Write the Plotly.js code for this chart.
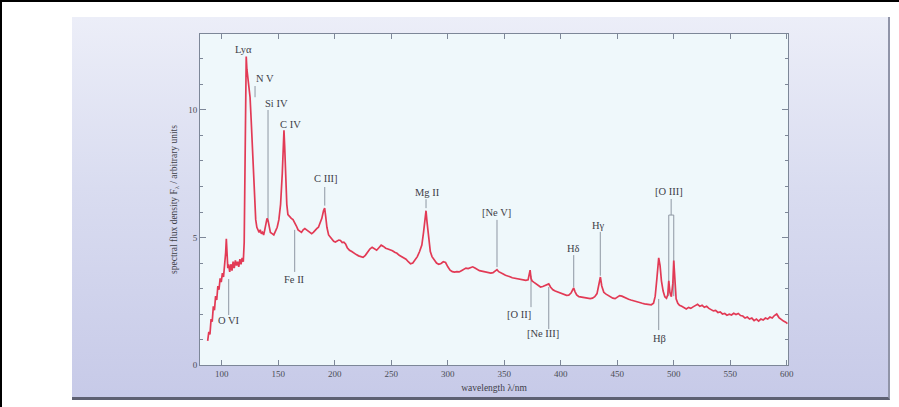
<!DOCTYPE html>
<html>
<head>
<meta charset="utf-8">
<script src="https://cdn.plot.ly/plotly-3.0.1.min.js"></script>
<style>
  html, body { margin: 0; padding: 0; background: #ffffff; }
  #frame { position: relative; width: 899px; height: 407px; overflow: hidden; background: #ffffff;
           border-left: 2px solid #000; border-top: 2px solid #000; box-sizing: border-box; }
  #panel { position: absolute; left: 70px; top: 15px; width: 818px; height: 383px;
           background: linear-gradient(to bottom, #eceef8 0%, #d9dcf0 45%, #c7cae8 100%);
           border-bottom: 3px solid #5d6072; border-right: 2px solid #9094a8; box-sizing: border-box; }
  #chart { position: absolute; left: -2px; top: -2px; width: 899px; height: 407px; }
</style>
</head>
<body>
<div id="frame">
  <div id="panel"></div>
  <div id="chart"></div>
</div>
<script>
// Composite quasar spectrum (rest-frame wavelength in nm, flux in arbitrary units)
const wavelength = [
  87.5, 88.5, 89.5, 90.5, 91.5, 92.5, 93.5, 94.5, 95.5, 96.5, 97.5, 98.5, 99.5, 100.5, 101.5, 102.5, 103.4, 104.0, 104.6, 105.3,
  106, 107, 108, 109, 110, 111, 112, 113, 114, 115, 116, 117, 118, 119, 119.8, 120.5, 121.0, 121.6, 122.2, 123.0,
  124.0, 125.0, 126.0, 127.0, 128.0, 129.0, 130.0, 131.0, 132.0, 133.0, 134.0, 135.0, 136.0, 137.0, 138.0, 139.0, 140.0, 141.0, 142.0, 143.0,
  144.5, 146.0, 147.5, 149.0, 150.5, 152.0, 153.5, 154.5, 155.0, 155.6, 156.5, 157.5, 158.5, 160, 161.5, 163, 164.5, 166, 167.5, 169,
  170.5, 172, 173.5, 175, 176.5, 178, 179.5, 181, 182.5, 184, 185.5, 187, 188.5, 190.0, 191.0, 192.0, 193.0, 194.5, 196, 197.5,
  199, 200.5, 202, 203.5, 205, 206.5, 208, 209.5, 211, 213, 215, 217, 219, 221, 223, 225, 227, 229, 231, 233,
  235, 237, 239, 241, 243, 245, 247, 249, 251, 253, 255, 257, 259, 261, 263, 265, 267, 269, 271, 273,
  275, 277, 278.5, 279.8, 280.7, 281.6, 283, 284.5, 286, 288, 290, 292, 294, 296, 298, 300, 302, 304, 306, 308,
  310, 312, 314, 316, 318, 320, 322, 324, 326, 328, 330, 332, 334, 336, 338, 340, 342, 343.5, 345, 347,
  349, 351, 353, 355, 357, 359, 361, 363, 365, 367, 369, 371, 372.8, 373.6, 374.5, 376, 378, 380, 382, 384,
  386, 388, 389.3, 391, 393, 395, 397, 399, 401, 403, 405, 407, 409, 410.5, 411.4, 412.5, 414, 416, 418, 420,
  422, 424, 426, 428, 430, 432, 433.8, 435.0, 436.2, 438, 440, 442, 444, 446, 448, 450, 452, 454, 456, 458,
  460, 462, 464, 466, 468, 470, 472, 474, 476, 478, 480, 482, 483.5, 485.0, 486.6, 487.8, 489, 490.5, 492, 493.5,
  494.6, 495.5, 496.5, 497.8, 499.1, 499.9, 500.8, 502, 503.5, 505, 507, 509, 511, 513, 515, 517, 519, 521, 523, 525,
  527, 529, 531, 533, 535, 537, 539, 541, 543, 545, 547, 549, 551, 553, 555, 557, 559, 561, 563, 565,
  567, 569, 571, 573, 575, 577, 579, 581, 583, 585, 587, 589, 591, 593, 595, 597, 599, 600.5
];
const flux = [
  0.95, 1.30, 1.20, 1.80, 1.70, 2.30, 2.15, 2.70, 2.55, 3.10, 2.95, 3.40, 3.25, 3.60, 3.45, 3.85, 4.40, 4.95, 4.30, 3.80,
  3.95, 3.65, 3.95, 3.70, 4.05, 3.80, 4.10, 3.90, 4.05, 3.85, 4.15, 3.95, 4.20, 4.05, 4.80, 7.40, 10.20, 12.10, 11.60, 11.30,
  11.10, 10.50, 9.60, 8.70, 7.40, 6.40, 5.70, 5.40, 5.25, 5.20, 5.30, 5.15, 5.20, 5.10, 5.30, 5.50, 5.75, 5.65, 5.40, 5.20,
  5.15, 5.10, 5.25, 5.40, 5.70, 6.30, 7.50, 8.70, 9.20, 8.60, 7.20, 6.30, 5.90, 5.80, 5.75, 5.70, 5.60, 5.45, 5.30, 5.25,
  5.20, 5.30, 5.35, 5.30, 5.25, 5.20, 5.15, 5.20, 5.30, 5.35, 5.40, 5.55, 5.75, 6.05, 6.15, 5.80, 5.40, 5.10, 5.00, 4.95,
  4.85, 4.82, 4.85, 4.90, 4.88, 4.80, 4.82, 4.75, 4.60, 4.50, 4.45, 4.38, 4.33, 4.28, 4.25, 4.22, 4.30, 4.42, 4.55, 4.62,
  4.55, 4.50, 4.60, 4.70, 4.65, 4.58, 4.55, 4.52, 4.48, 4.42, 4.38, 4.30, 4.25, 4.20, 4.15, 4.05, 3.97, 4.00, 4.12, 4.25,
  4.45, 4.70, 5.20, 5.85, 6.05, 5.60, 4.90, 4.45, 4.25, 4.10, 4.00, 3.95, 3.98, 4.05, 4.02, 3.85, 3.72, 3.66, 3.64, 3.66,
  3.65, 3.70, 3.76, 3.80, 3.78, 3.83, 3.85, 3.80, 3.74, 3.70, 3.68, 3.66, 3.64, 3.62, 3.60, 3.62, 3.68, 3.74, 3.66, 3.60,
  3.57, 3.52, 3.50, 3.46, 3.42, 3.40, 3.38, 3.36, 3.35, 3.33, 3.32, 3.34, 3.72, 3.40, 3.30, 3.25, 3.18, 3.10, 3.06, 3.08,
  3.12, 3.16, 3.18, 3.05, 2.95, 2.90, 2.86, 2.82, 2.78, 2.75, 2.73, 2.74, 2.82, 2.95, 3.02, 2.88, 2.75, 2.68, 2.66, 2.64,
  2.62, 2.60, 2.60, 2.62, 2.68, 2.80, 3.15, 3.45, 3.10, 2.85, 2.78, 2.72, 2.66, 2.62, 2.60, 2.65, 2.72, 2.70, 2.65, 2.62,
  2.58, 2.55, 2.52, 2.50, 2.47, 2.45, 2.42, 2.40, 2.38, 2.35, 2.36, 2.42, 2.70, 3.40, 4.20, 3.90, 3.30, 2.90, 2.68, 2.62,
  2.75, 3.30, 2.85, 2.68, 3.20, 4.10, 3.30, 2.60, 2.42, 2.34, 2.30, 2.26, 2.20, 2.26, 2.22, 2.28, 2.34, 2.38, 2.30, 2.34,
  2.26, 2.30, 2.22, 2.18, 2.12, 2.14, 2.06, 2.08, 2.00, 2.02, 1.95, 1.99, 1.96, 2.03, 1.98, 2.02, 1.94, 1.92, 1.84, 1.88,
  1.80, 1.84, 1.74, 1.80, 1.72, 1.80, 1.76, 1.84, 1.80, 1.88, 1.84, 1.94, 2.00, 1.86, 1.78, 1.72, 1.68, 1.62
];

// Emission-line labels and their marker ticks
const lineNames   = ['Lyα', 'N V', 'Si IV', 'C IV', 'C III]', 'Fe II', 'Mg II', '[Ne V]', '[O II]', '[Ne III]', 'Hδ', 'Hγ', 'Hβ', '[O III]', 'O VI'];
const labelLambda = [119.6, 138.2, 148.8, 161.2, 192.2, 163.9, 281.6, 342.7, 362.7, 383.9, 410.8, 433.6, 486.9, 495.8, 106.4];
const labelFlux   = [12.39, 11.22, 10.27, 9.45, 7.33, 3.37, 6.75, 6.00, 2.00, 1.22, 4.55, 5.49, 1.02, 6.82, 1.76];

// marker segments: (x0, y0) -> (x1, y1)
const markX0 = [129.4, 140.9, 191.1, 164.5, 280.7, 343.5, 373.6, 389.3, 411.4, 434.9, 486.6, 497.6, 495.5, 495.5, 499.9, 106.1];
const markY0 = [10.94, 10.00, 6.98, 5.30, 6.50, 5.69, 3.50, 3.06, 4.31, 5.22, 2.59, 6.51, 5.88, 5.88, 5.88, 3.37];
const markX1 = [129.4, 140.9, 191.1, 164.5, 280.7, 343.5, 373.6, 389.3, 411.4, 434.9, 486.6, 497.6, 499.9, 495.5, 499.9, 106.1];
const markY1 = [10.50, 5.60, 6.25, 3.65, 6.15, 3.84, 2.27, 1.41, 3.05, 3.50, 1.37, 5.88, 5.88, 2.70, 2.70, 1.96];

const xTicks = [100, 150, 200, 250, 300, 350, 400, 450, 500, 550, 600];
const yTicks = [0, 5, 10];

// build marker polyline with gaps
const mx = [], my = [];
for (let i = 0; i < markX0.length; i++) {
  mx.push(markX0[i], markX1[i], null);
  my.push(markY0[i], markY1[i], null);
}

const serif = 'Liberation Serif, DejaVu Serif, serif';
const axisCol = '#7d8798';

const traces = [
  { x: mx, y: my, mode: 'lines', line: { color: '#8e97a3', width: 1 }, hoverinfo: 'skip', connectgaps: false },
  { x: wavelength, y: flux, mode: 'lines', line: { color: '#e23a55', width: 1.7 }, hoverinfo: 'skip' }
];

const annotations = lineNames.map((t, i) => ({
  x: labelLambda[i], y: labelFlux[i], xref: 'x', yref: 'y', text: t, showarrow: false,
  xanchor: 'center', yanchor: 'middle', font: { family: serif, size: 10.5, color: '#3e4048' }
}));

const layout = {
  width: 899, height: 407,
  margin: { l: 200, r: 111, t: 34, b: 42, pad: 0 },
  paper_bgcolor: 'rgba(0,0,0,0)',
  plot_bgcolor: '#eff8fb',
  showlegend: false,
  xaxis: {
    range: [80.7, 601], tickvals: xTicks, ticktext: xTicks.map(String),
    ticks: 'inside', ticklen: 5, tickcolor: axisCol, showline: true, linecolor: axisCol, linewidth: 1,
    mirror: 'ticks', showgrid: false, zeroline: false,
    tickfont: { family: serif, size: 9, color: '#4a4c55' },
    title: { text: 'wavelength λ/nm', font: { family: serif, size: 9.5, color: '#3e4048' }, standoff: 6 }
  },
  yaxis: {
    range: [0, 12.98], tickvals: yTicks, ticktext: yTicks.map(String),
    ticks: 'inside', ticklen: 6, tickcolor: axisCol, showline: true, linecolor: axisCol, linewidth: 1,
    mirror: 'ticks', showgrid: false, zeroline: false,
    minor: { dtick: 1, ticks: 'inside', ticklen: 3, tickcolor: axisCol, showgrid: false },
    tickfont: { family: serif, size: 9, color: '#4a4c55' },
    title: { text: 'spectral flux density F<sub>λ</sub> / arbitrary units', font: { family: serif, size: 9.5, color: '#3e4048' }, standoff: 8 }
  },
  annotations: annotations
};

Plotly.newPlot('chart', traces, layout, { displayModeBar: false, staticPlot: true });
</script>
</body>
</html>
